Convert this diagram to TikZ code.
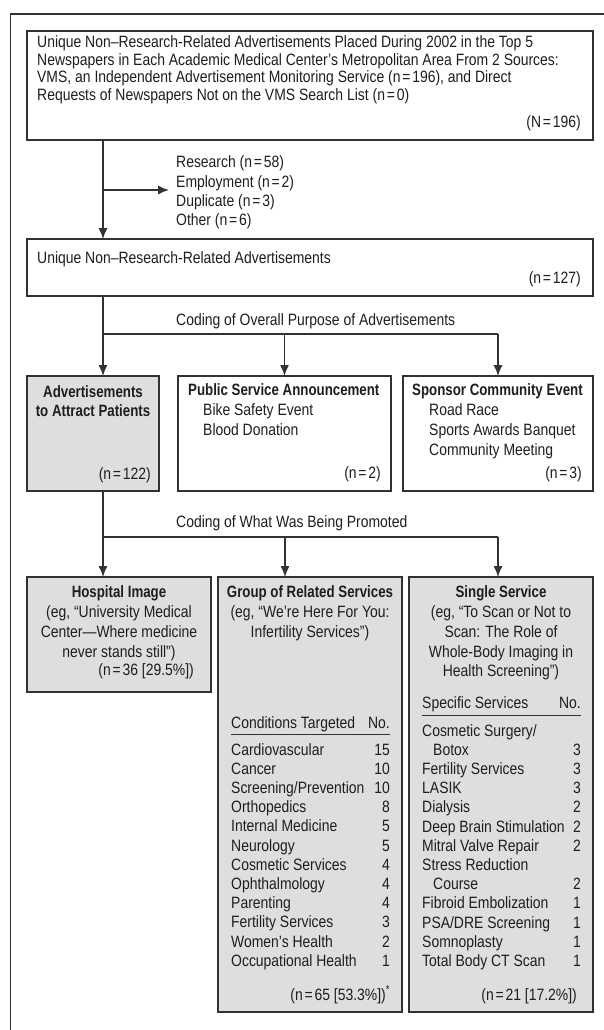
\documentclass[tikz,border=0pt]{standalone}
\usepackage{fontspec}
\setmainfont{Liberation Sans}[FakeStretch=0.85,BoldFeatures={FakeStretch=0.81}]
\usetikzlibrary{arrows.meta}
\definecolor{linecol}{RGB}{50,50,50}
\definecolor{txtcol}{RGB}{30,30,30}
\definecolor{boxgray}{RGB}{221,222,224}
\newcommand{\nEq}[1]{(n\kern1.8pt=\kern1.8pt#1)}
\begin{document}
\begin{tikzpicture}[x=1pt,y=-1pt,
  every node/.style={text=txtcol},
  box/.style={draw=linecol,line width=1.4pt,fill=white,anchor=north west,inner sep=0pt,outer sep=0pt},
  gbox/.style={box,fill=boxgray},
  lt/.style={anchor=base west,inner sep=0pt,font=\fontsize{16.4}{19}\selectfont},
  rt/.style={anchor=base east,inner sep=0pt,font=\fontsize{16.4}{19}\selectfont},
  ct/.style={anchor=base,inner sep=0pt,font=\fontsize{16.4}{19}\selectfont},
  bct/.style={anchor=base,inner sep=0pt,font=\fontsize{16.4}{19}\selectfont\bfseries},
  blt/.style={anchor=base west,inner sep=0pt,font=\fontsize{16.4}{19}\selectfont\bfseries},
  conn/.style={draw=linecol,line width=1.3pt},
  arr/.style={conn,-{Latex[length=11pt,width=9pt]}},
  rule/.style={draw=linecol,line width=1pt},
  frame/.style={draw=linecol,line width=1.7pt,anchor=north west,inner sep=0pt,minimum width=800pt,minimum height=1200pt}
]
\useasboundingbox (0,0) rectangle (603,1030);
\node[frame] (outer) at (9.5,13) {};

% ---- source box
\node[box,minimum width=566pt,minimum height=109pt] (src) at (27,31) {};
\node[lt] (src1) at (37,48) {Unique Non–Research-Related Advertisements Placed During 2002 in the Top 5};
\node[lt] (src2) at (37,65.5) {Newspapers in Each Academic Medical Center’s Metropolitan Area From 2 Sources:};
\node[lt] (src3) at (37,83) {VMS, an Independent Advertisement Monitoring Service \nEq{196}, and Direct};
\node[lt] (src4) at (37,100.5) {Requests of Newspapers Not on the VMS Search List \nEq{0}};
\node[rt] (srcn) at (581,127.5) {(N\kern1.8pt=\kern1.8pt196)};

% ---- exclusions
\node[lt] (ex1) at (176,167.5) {Research \nEq{58}};
\node[lt] (ex2) at (176,187) {Employment \nEq{2}};
\node[lt] (ex3) at (176,206.5) {Duplicate \nEq{3}};
\node[lt] (ex4) at (176,225) {Other \nEq{6}};

% ---- unique box
\node[box,minimum width=566pt,minimum height=57pt] (uniq) at (27,239) {};
\node[lt] (uniqt) at (37,263) {Unique Non–Research-Related Advertisements};
\node[rt] (uniqn) at (581,283) {\nEq{127}};

\node[lt] (cod1) at (176,325) {Coding of Overall Purpose of Advertisements};

% ---- row 3
\node[gbox,minimum width=132pt,minimum height=115pt] (pat) at (27,376) {};
\node[bct] (pat1) at (93,397) {Advertisements};
\node[bct] (pat2) at (93,416.5) {to Attract Patients};
\node[rt] (patn) at (151,479) {\nEq{122}};

\node[box,minimum width=213pt,minimum height=115pt] (psa) at (178,376) {};
\node[blt] (psa1) at (188,395) {Public Service Announcement};
\node[lt] (psa2) at (203,415) {Bike Safety Event};
\node[lt] (psa3) at (203,435) {Blood Donation};
\node[rt] (psan) at (381,478) {\nEq{2}};

\node[box,minimum width=190pt,minimum height=115pt] (spon) at (403,376) {};
\node[blt] (spon1) at (412,395) {Sponsor Community Event};
\node[lt] (spon2) at (429,415) {Road Race};
\node[lt] (spon3) at (429,435) {Sports Awards Banquet};
\node[lt] (spon4) at (429,455) {Community Meeting};
\node[rt] (sponn) at (582,478) {\nEq{3}};

\node[lt] (cod2) at (176,527) {Coding of What Was Being Promoted};

% ---- row 4
\node[gbox,minimum width=184pt,minimum height=115pt] (hosp) at (27,577) {};
\node[bct] (hosp1) at (119,597) {Hospital Image};
\node[ct] (hosp2) at (119,617) {(eg, “University Medical};
\node[ct] (hosp3) at (119,637) {Center—Where medicine};
\node[ct] (hosp4) at (119,657) {never stands still”)};
\node[rt] (hospn) at (194,675) {\nEq{36 [29.5\%]}};

\node[gbox,minimum width=184pt,minimum height=435pt] (grp) at (218,577) {};
\node[bct] (grp1) at (310,597) {Group of Related Services};
\node[ct] (grp2) at (310,617) {(eg, “We’re Here For You:};
\node[ct] (grp3) at (310,637) {Infertility Services”)};
\node[lt] (grph) at (231,728) {Conditions Targeted};
\node[rt] (grphn) at (390,728) {No.};
\draw[rule] (grph.base west |- 0,734.5) -- (grphn.base east |- 0,734.5);
\foreach \lab/\num [count=\i from 0] in {Cardiovascular/15,Cancer/10,{Screening/Prevention}/10,Orthopedics/8,Internal Medicine/5,Neurology/5,Cosmetic Services/4,Ophthalmology/4,Parenting/4,Fertility Services/3,Women’s Health/2,Occupational Health/1}{
  \node[lt] (g\i) at (231,755+19.2*\i) {\lab};
  \node[rt] (gn\i) at (390,755+19.2*\i) {\num};
}
\node[rt] (grpn) at (386,1000) {\nEq{65 [53.3\%]}\rlap{\textsuperscript{*}}};

\node[gbox,minimum width=184pt,minimum height=435pt] (sgl) at (409,577) {};
\node[bct] (sgl1) at (501,597) {Single Service};
\node[ct] (sgl2) at (501,617) {(eg, “To Scan or Not to};
\node[ct] (sgl3) at (501,637) {Scan: The Role of};
\node[ct] (sgl4) at (501,657) {Whole-Body Imaging in};
\node[ct] (sgl5) at (501,676) {Health Screening”)};
\node[lt] (sglh) at (422,708.5) {Specific Services};
\node[rt] (sglhn) at (581,708.5) {No.};
\draw[rule] (sglh.base west |- 0,715.5) -- (sglhn.base east |- 0,715.5);
\foreach \lab/\num/\ind [count=\i from 0] in {{Cosmetic Surgery/}//0,Botox/3/11,Fertility Services/3/0,LASIK/3/0,Dialysis/2/0,Deep Brain Stimulation/2/0,Mitral Valve Repair/2/0,Stress Reduction//0,Course/2/11,Fibroid Embolization/1/0,{PSA/DRE Screening}/1/0,Somnoplasty/1/0,Total Body CT Scan/1/0}{
  \node[lt] (s\i) at (422+\ind,736+19.2*\i) {\lab};
  \node[rt] (sn\i) at (581,736+19.2*\i) {\num};
}
\node[rt] (sgln) at (577,1000) {\nEq{21 [17.2\%]}};

% ---- connectors
\coordinate (j1) at (103,190);
\coordinate (exend) at (169,190);
\draw[arr] (src.south -| j1) -- (uniq.north -| j1);
\draw[arr] (j1) -- (exend);

\coordinate (j2) at (103,334);
\draw[conn] (uniq.south -| j2) -- (j2) -- (j2 -| spon.north);
\draw[arr] (j2) -- (j2 |- pat.north);
\draw[arr] (j2 -| psa.north) -- (psa.north);
\draw[arr] (j2 -| spon.north) -- (spon.north);

\coordinate (j3) at (103,537);
\coordinate (j3b) at (285,537);
\coordinate (j3c) at (498,537);
\draw[conn] (pat.south -| j3) -- (j3) -- (j3c);
\draw[arr] (j3) -- (j3 |- hosp.north);
\draw[arr] (j3b) -- (j3b |- grp.north);
\draw[arr] (j3c) -- (j3c |- sgl.north);
\end{tikzpicture}
\end{document}
